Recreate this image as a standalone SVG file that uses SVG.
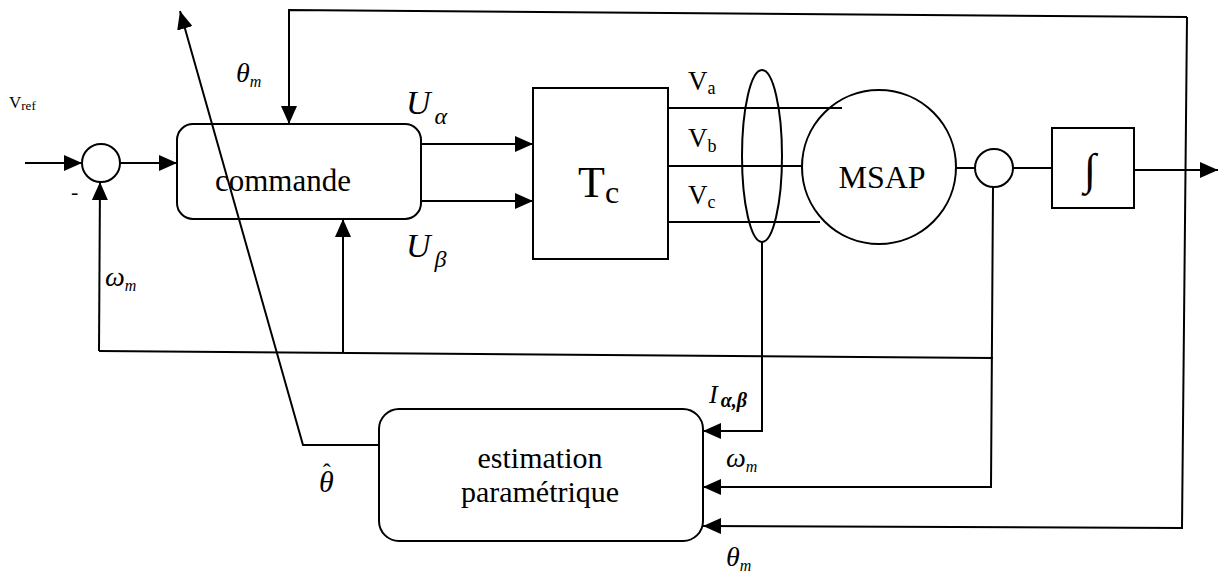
<svg xmlns="http://www.w3.org/2000/svg" width="1221" height="574" viewBox="0 0 1221 574" font-family="'Liberation Serif', 'DejaVu Serif', serif">
<style>
.s{fill:none;stroke:#000;stroke-width:2}
.c{fill:none;stroke:#000;stroke-width:2}
.a{marker-end:url(#arr)}
.i{font-style:italic}
</style>
<defs>
<marker id="arr" markerUnits="userSpaceOnUse" markerWidth="20" markerHeight="16" refX="18" refY="8" orient="auto">
<path d="M0,0 L18,8 L0,16 Z" fill="#000"/>
</marker>
</defs>
<rect width="1221" height="574" fill="#fff"/>
<g id="connectors">
<path class="s a" d="M25 163 L82 163"/>
<path class="s a" d="M120 163 L177 163"/>
<path class="s" d="M993 358 L99 351"/>
<path class="s a" d="M99 351 L100 182"/>
<path class="s a" d="M343 353 L343 219"/>
<path class="s a" d="M1187 17 L289 10 L289 124"/>
<path class="s a" d="M1187 17 L1182 528 L703 526"/>
<path class="s a" d="M421 144 L533 144"/>
<path class="s a" d="M421 201 L533 201"/>
<path class="s" d="M668 108 L842 108"/>
<path class="s" d="M668 166 L802 166"/>
<path class="s" d="M668 222 L820 222"/>
<path class="s a" d="M762 242 L762 431 L703 431"/>
<path class="s" d="M956 168 L975 168"/>
<path class="s" d="M1013 168 L1052 168"/>
<path class="s a" d="M1134 170 L1218 170"/>
<path class="s a" d="M993 187 L991 487 L703 487"/>
<path class="s a" d="M379 445 L303 445 L180 11"/>
</g>
<g id="sum1"><circle class="c" cx="101" cy="163" r="19"/><text x="71" y="199" font-size="22">-</text></g>
<g id="commande"><rect class="c" x="177" y="124" width="244" height="95" rx="16"/><text x="283" y="191" font-size="31" text-anchor="middle">commande</text></g>
<g id="tc"><rect class="c" x="533" y="88" width="135" height="171"/><text x="578" y="197" font-size="44">T<tspan font-size="32" dy="6">c</tspan></text></g>
<g id="bundle"><ellipse class="c" cx="762" cy="156" rx="20" ry="86"/></g>
<g id="msap"><circle class="c" cx="879" cy="167" r="77"/><text x="882" y="188" font-size="32" text-anchor="middle">MSAP</text></g>
<g id="sum2"><circle class="c" cx="994" cy="168" r="19"/></g>
<g id="integ"><rect class="c" x="1052" y="128" width="82" height="80"/><text x="1090" y="184" font-size="44" text-anchor="middle">∫</text></g>
<g id="estimation"><rect class="c" x="379" y="409" width="324" height="132" rx="20"/><text x="540" y="468" font-size="30" text-anchor="middle">estimation</text><text x="540" y="502" font-size="30" text-anchor="middle">paramétrique</text></g>
<g id="labels">
<text x="9" y="108" font-size="17">V<tspan font-size="13" dy="2">ref</tspan></text>
<text class="i" x="236" y="82" font-size="28">θ<tspan font-size="16" dy="5">m</tspan></text>
<text class="i" x="105" y="286" font-size="28">ω<tspan font-size="16" dy="5">m</tspan></text>
<text class="i" x="406" y="114" font-size="34">U<tspan font-size="24" dx="4" dy="10">α</tspan></text>
<text class="i" x="406" y="257" font-size="34">U<tspan font-size="24" dx="4" dy="10">β</tspan></text>
<text x="688" y="90" font-size="27">V<tspan font-size="18" dy="4">a</tspan></text>
<text x="688" y="147" font-size="27">V<tspan font-size="18" dy="5">b</tspan></text>
<text x="688" y="204" font-size="27">V<tspan font-size="18" dy="4">c</tspan></text>
<text class="i" x="709" y="403" font-size="26">I<tspan font-size="20" dx="3" dy="4" font-weight="bold">α,β</tspan></text>
<text class="i" x="726" y="467" font-size="28">ω<tspan font-size="16" dy="5">m</tspan></text>
<text class="i" x="726" y="566" font-size="28">θ<tspan font-size="16" dy="5">m</tspan></text>
<text class="i" x="319" y="492" font-size="30">θ<tspan font-style="normal" font-size="24" dx="-11" dy="-12">ˆ</tspan></text>
</g>
</svg>
